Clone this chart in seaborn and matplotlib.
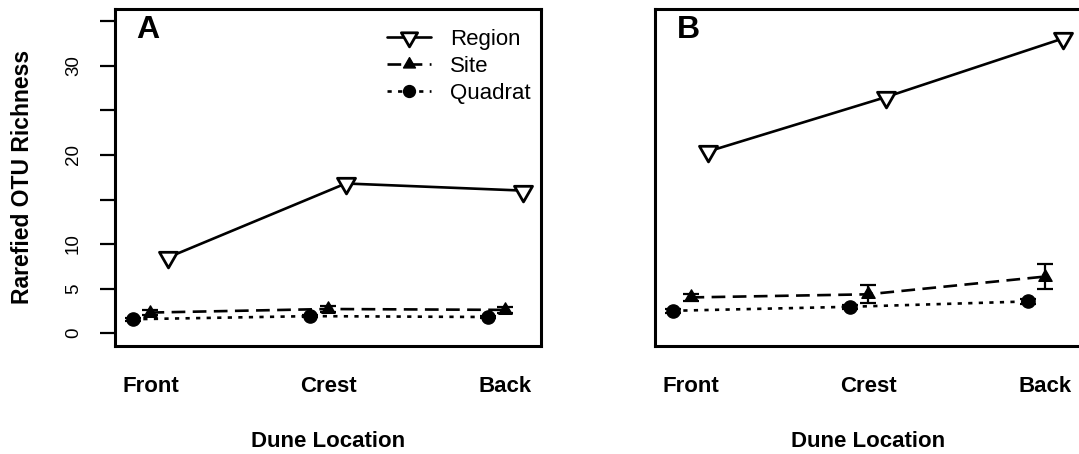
import matplotlib
matplotlib.use("Agg")
import matplotlib.pyplot as plt
from matplotlib.lines import Line2D
from matplotlib.path import Path
import seaborn as sns
import pandas as pd

# ---------------- data ----------------
locations = ["Front", "Crest", "Back"]
levels = ["Region", "Site", "Quadrat"]

A_region = [8.5, 16.8, 16.0]
A_site = [2.3, 2.7, 2.6]
A_quadrat = [1.55, 1.9, 1.8]
A_site_se = [0.3, 0.35, 0.3]
A_quadrat_se = [0.15, 0.15, 0.15]

B_region = [20.4, 26.5, 33.1]
B_site = [4.0, 4.35, 6.35]
B_quadrat = [2.5, 2.95, 3.55]
B_site_se = [0.4, 1.0, 1.35]
B_quadrat_se = [0.2, 0.25, 0.3]

y_ticks = [0, 5, 10, 15, 20, 25, 30, 35]
y_ticklabels = ["0", "5", "10", "", "20", "", "30", ""]

# ---------------- style ----------------
sns.set_theme(style="white")
plt.rcParams["font.family"] = ["Liberation Sans", "DejaVu Sans"]
for key in ["text.color", "axes.labelcolor", "xtick.color", "ytick.color",
            "axes.edgecolor"]:
    plt.rcParams[key] = "black"

W, H = 1079, 454
fig = plt.figure(figsize=(W / 100, H / 100), dpi=100)

def px_axes(left, top, right, bottom):
    return [left / W, (H - bottom) / H, (right - left) / W, (bottom - top) / H]

axA = fig.add_axes(px_axes(115, 9, 541, 345.5))
axB = fig.add_axes(px_axes(655, 9, 1081, 345.5))

tri_down = Path([(0, -1), (0.866, 0.5), (-0.866, 0.5), (0, -1)], closed=True)
tri_up = Path([(0, 1), (0.866, -0.5), (-0.866, -0.5), (0, 1)], closed=True)

offsets = {"Region": 0.1, "Site": 0.0, "Quadrat": -0.1}
LW = 1.9
styles = {
    "Region": dict(linestyle="-", marker=tri_down,
                   markersize=15, markerfacecolor="white", markeredgewidth=2.0),
    "Site": dict(linestyle=(0, (5.2, 2.8)), marker=tri_up,
                 markersize=11, markerfacecolor="black", markeredgewidth=1.0),
    "Quadrat": dict(linestyle=(0, (1.6, 2.4)), marker="o",
                    markersize=9.5, markerfacecolor="black", markeredgewidth=1.0),
}

def draw_panel(ax, region, site, quadrat, site_se, quadrat_se, letter, show_y):
    values = {"Region": region, "Site": site, "Quadrat": quadrat}
    errs = {"Site": site_se, "Quadrat": quadrat_se}
    for lev in levels:
        df = pd.DataFrame({
            "pos": [i + 1 + offsets[lev] for i in range(len(locations))],
            "richness": values[lev],
        })
        if lev in errs:
            ax.errorbar(df["pos"], df["richness"], yerr=errs[lev], fmt="none",
                        ecolor="black", elinewidth=1.6, capsize=5.5,
                        capthick=1.6, zorder=2)
        st = styles[lev]
        sns.lineplot(data=df, x="pos", y="richness", ax=ax, color="black",
                     linewidth=LW, linestyle=st["linestyle"],
                     marker=st["marker"], markersize=st["markersize"],
                     markerfacecolor=st["markerfacecolor"],
                     markeredgecolor="black",
                     markeredgewidth=st["markeredgewidth"],
                     zorder=3, legend=False)

    ax.set_xlim(0.8, 3.2)
    ax.set_ylim(-1.4, 36.4)
    ax.set_xticks([1, 2, 3])
    ax.set_xticklabels(locations, fontsize=16, fontweight="bold")
    ax.tick_params(axis="x", length=0, pad=22)
    for sp in ax.spines.values():
        sp.set_visible(True)
        sp.set_color("black")
        sp.set_linewidth(2.2)
    if show_y:
        ax.set_yticks(y_ticks)
        ax.set_yticklabels(y_ticklabels, fontsize=13.5)
        ax.tick_params(axis="y", left=True, length=10.8, width=1.6,
                       direction="out", pad=13, labelrotation=90, color="black")
        for t in ax.get_yticklabels():
            t.set_va("center")
        ax.set_ylabel("Rarefied OTU Richness", fontsize=16.5, fontweight="bold")
        ax.yaxis.set_label_coords(-0.19, 0.5)
    else:
        ax.set_yticks([])
        ax.set_ylabel("")
    ax.set_xlabel("Dune Location", fontsize=16, fontweight="bold")
    ax.xaxis.set_label_coords(0.5, -0.254)
    ax.text(0.0775, 0.915, letter, transform=ax.transAxes, fontsize=23,
            fontweight="bold", ha="center", va="baseline")
    ax.grid(False)

draw_panel(axA, A_region, A_site, A_quadrat, A_site_se, A_quadrat_se, "A", True)
draw_panel(axB, B_region, B_site, B_quadrat, B_site_se, B_quadrat_se, "B", False)

handles = []
for lev in levels:
    st = styles[lev]
    handles.append(Line2D([], [], color="black", linewidth=LW,
                          linestyle=st["linestyle"], marker=st["marker"],
                          markersize=st["markersize"] * 0.9,
                          markerfacecolor=st["markerfacecolor"],
                          markeredgecolor="black",
                          markeredgewidth=st["markeredgewidth"]))
axA.legend(handles, levels, loc="upper left", bbox_to_anchor=(0.638, 0.94),
           frameon=False, fontsize=16, handlelength=2.0, handletextpad=0.85,
           labelspacing=0.26, borderpad=0, borderaxespad=0, numpoints=1)

fig.savefig("out.png", dpi=100)
